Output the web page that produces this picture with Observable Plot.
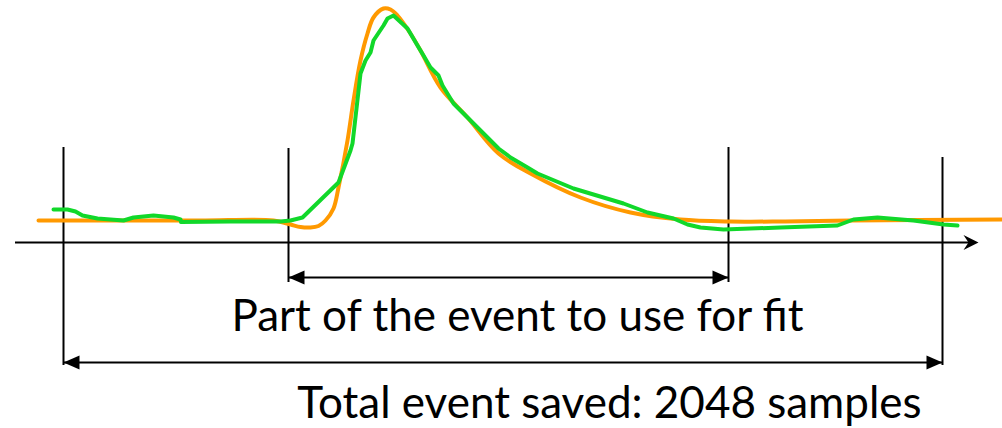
<!DOCTYPE html>
<html>
<head>
<meta charset="utf-8">
<script src="https://cdn.jsdelivr.net/npm/d3@7"></script>
<script src="https://cdn.jsdelivr.net/npm/@observablehq/plot@0.6"></script>
<style>
  html, body { margin: 0; padding: 0; background: #fff; }
  #chart svg { display: block; }
</style>
</head>
<body>
<div id="chart"></div>
<script>
// Fitted pulse (orange): [position, amplitude above the axis]
const fitX = [38,100,200,273,290,300,310,318,325,333,338,347,353,360,367,373,383,390,397,408,420,440,467,498,530,580,630,680,730,780,850,1002];
const fitY = [22,22,22,22,18,15.5,15,16.5,22,34,55,102,142,182,209,225,234,233,227,212,192,155,125,89,69,45,30,23,21,21,22,23];

// Measured event (green)
const evX = [53,67,75,82,97,123,133,153,173,180,180.5,230,280,290,302,338,350,352,360,365,370,373,383,387,393,407,417,423,430,438,442,453,473,498,510,527,537,573,623,647,673,687,700,723,780,837,853,877,913,943,957];
const evY = [33,33,31,27,24,22,25,27,25,23,20.5,21,21,22,25,60,92,99,169,182,190,202,217,224,227,214,197,187,175,167,157,139,119,94,85,75,69,54,39,30,24,18,15,13,15,17,23,25,22,18,17];

// Window markers: [position, top, bottom]
const markX = [63, 288, 728, 942];
const markTop = [95, 94, 95, 85];
const markBottom = [-123, -40, -40, -123];

// Spans (double arrows)
const spanStart = [288, 63];
const spanEnd = [728, 942];
const spanLevel = [-35, -120];

// Labels
const labelText = ["Part of the event to use for fit", "Total event saved: 2048 samples"];
const labelX = [517, 609];
const labelY = [-74.5, -161];

// Axis
const axisStart = 15, axisEnd = 978;

const fit = fitX.map((x, i) => ({x, y: fitY[i]}));
const ev = evX.map((x, i) => ({x, y: evY[i]}));
const marks = markX.map((x, i) => ({x, y1: markTop[i], y2: markBottom[i]}));
const spans = spanStart.map((s, i) => ({x1: s, x2: spanEnd[i], y: spanLevel[i]}));
const heads = spans.flatMap(d => [{x: d.x1, y: d.y, r: 180}, {x: d.x2, y: d.y, r: 0}]);
const labels = labelText.map((t, i) => ({t, x: labelX[i], y: labelY[i]}));

const triangle = {draw(ctx) { ctx.moveTo(0, 0); ctx.lineTo(-16, -7); ctx.lineTo(-16, 7); ctx.closePath(); }};
const notched = {draw(ctx) { ctx.moveTo(0, 0); ctx.lineTo(-15, -7.5); ctx.lineTo(-10, 0); ctx.lineTo(-15, 7.5); ctx.closePath(); }};

const chart = Plot.plot({
  width: 1002,
  height: 428,
  margin: 0,
  x: {domain: [0, 1002], axis: null},
  y: {domain: [-186, 242], axis: null},
  marks: [
    Plot.ruleY([0], {x1: axisStart, x2: axisEnd - 8, stroke: "#000", strokeWidth: 2}),
    Plot.dot([{x: axisEnd, y: 0}], {x: "x", y: "y", symbol: notched, fill: "#000", stroke: "none"}),
    Plot.ruleX(marks, {x: "x", y1: "y1", y2: "y2", stroke: "#000", strokeWidth: 2}),
    Plot.ruleY(spans, {y: "y", x1: "x1", x2: "x2", stroke: "#000", strokeWidth: 2}),
    Plot.dot(heads, {x: "x", y: "y", rotate: "r", symbol: triangle, fill: "#000", stroke: "none"}),
    Plot.line(fit, {x: "x", y: "y", stroke: "#FF9900", strokeWidth: 4, curve: "catmull-rom"}),
    Plot.line(ev, {x: "x", y: "y", stroke: "#11D82A", strokeWidth: 4, curve: "linear"}),
    Plot.text(labels, {x: "x", y: "y", text: "t", fontSize: 44, fontFamily: "Lato", fill: "#000", textAnchor: "middle", lineAnchor: "middle"})
  ]
});
document.getElementById("chart").appendChild(chart);
</script>
</body>
</html>
